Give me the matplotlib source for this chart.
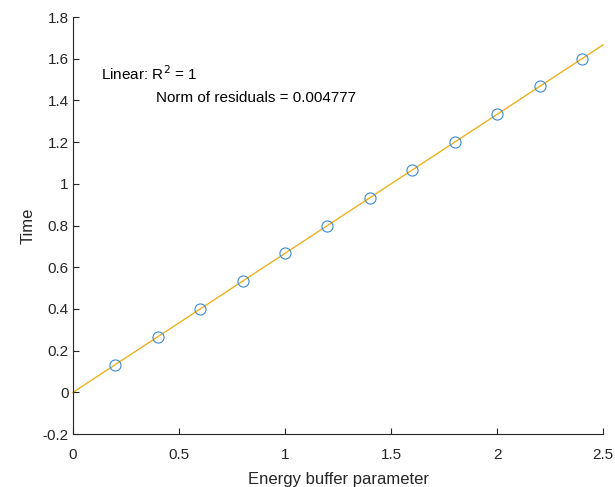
import numpy as np
import matplotlib.pyplot as plt

plt.rcParams['font.family'] = ['Liberation Sans', 'DejaVu Sans']

# data
energy_buffer = [0.2, 0.4, 0.6, 0.8, 1.0, 1.2, 1.4, 1.6, 1.8, 2.0, 2.2, 2.4]
time_vals = [0.133, 0.267, 0.4, 0.533, 0.667, 0.8, 0.933, 1.067, 1.2, 1.333, 1.467, 1.6]

x_ticks = [0, 0.5, 1, 1.5, 2, 2.5]
x_tick_labels = ['0', '0.5', '1', '1.5', '2', '2.5']
y_ticks = [-0.2, 0, 0.2, 0.4, 0.6, 0.8, 1, 1.2, 1.4, 1.6, 1.8]
y_tick_labels = ['-0.2', '0', '0.2', '0.4', '0.6', '0.8', '1', '1.2', '1.4', '1.6', '1.8']

fig = plt.figure(figsize=(6.15, 4.87), dpi=100)
ax = fig.add_axes([0.1187, 0.1088, 0.862, 0.8562])

# linear fit
coef = np.polyfit(energy_buffer, time_vals, 1)
xfit = np.linspace(0, 2.5, 100)
ax.plot(xfit, np.polyval(coef, xfit), color='#EDB120', linewidth=1.0, clip_on=False)
ax.plot(energy_buffer, time_vals, 'o', markerfacecolor='none', markeredgecolor='#3A8AD0',
        markersize=8, markeredgewidth=0.8)

ax.set_xlim(0, 2.5)
ax.set_ylim(-0.2, 1.8)
ax.set_xticks(x_ticks)
ax.set_xticklabels(x_tick_labels)
ax.set_yticks(y_ticks)
ax.set_yticklabels(y_tick_labels)

for s in ['top', 'right']:
    ax.spines[s].set_visible(False)
for s in ['left', 'bottom']:
    ax.spines[s].set_color('#262626')
    ax.spines[s].set_linewidth(0.8)
ax.tick_params(direction='in', length=4, width=0.8, colors='#262626', labelsize=11)
ax.tick_params(axis='x', pad=10)
ax.tick_params(axis='y', pad=3)

ax.set_xlabel('Energy buffer parameter', fontsize=12, color='#262626', labelpad=7)
ax.set_ylabel('Time', fontsize=12, color='#262626', labelpad=5)

ax.text(0.132, 1.498, 'Linear: R$^2$ = 1', fontsize=11, color='black')
ax.text(0.391, 1.393, 'Norm of residuals = 0.004777', fontsize=11, color='black')

fig.savefig('out.png', dpi=100)
